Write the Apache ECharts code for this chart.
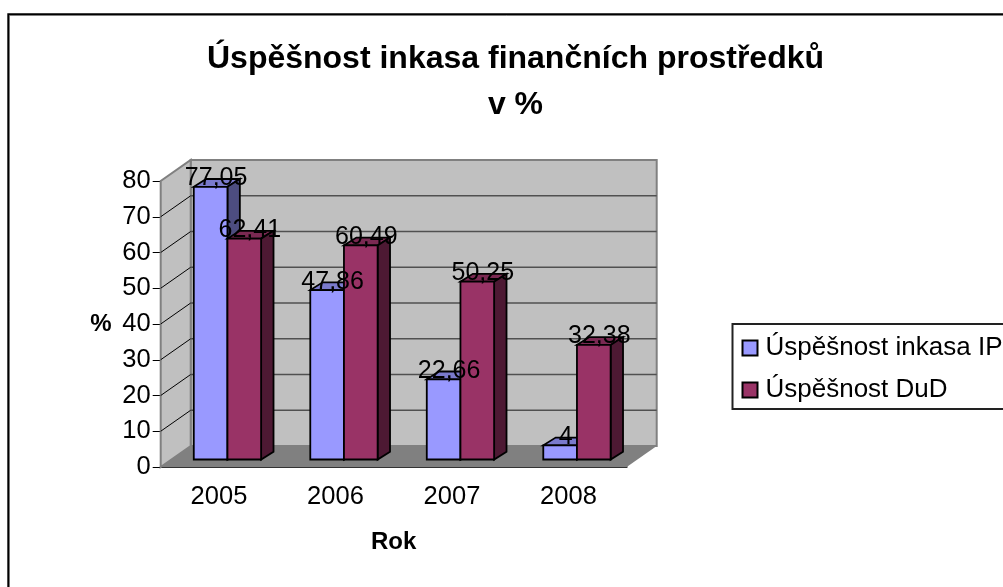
<!DOCTYPE html>
<html><head><meta charset="utf-8">
<style>html,body{margin:0;padding:0;background:#fff;overflow:hidden}#c{width:1003px;height:587px}</style>
<script src="https://cdn.jsdelivr.net/npm/echarts@6/dist/echarts.min.js"></script>
</head><body><div id="c"></div>
<script>
const titleText = 'Úspěšnost inkasa finančních prostředků\nv %';
const categories = ['2005', '2006', '2007', '2008'];
const seriesNames = ['Úspěšnost inkasa IP', 'Úspěšnost DuD'];
const valuesIP = [77.05, 47.86, 22.66, 4];
const valuesDuD = [62.41, 60.49, 50.25, 32.38];
const tickValues = [0, 10, 20, 30, 40, 50, 60, 70, 80];
const FONT = '"Liberation Sans", Arial, sans-serif';

// Oblique projection constants (pixels)
const WALL_DX = 30, WALL_DY = -21;
const BAR_INSET_X = 8.5, BAR_INSET_Y = -7.5, BAR_DX = 12.4, BAR_DY = -7.8;
const BAR_W = 0.289, SCALE = 0.99;

const chart = echarts.init(document.getElementById('c'), null, {renderer: 'canvas'});

function poly(points, fill, z2) {
  return {type: 'polygon', z2: z2 || 0, shape: {points},
    style: {fill, stroke: '#000', lineWidth: 1.8, lineJoin: 'miter'}};
}
function barSeries(idx, values, front, top, side) {
  return {
    name: seriesNames[idx], type: 'custom', z: 5,
    itemStyle: {color: front},
    data: values.map((v, i) => [i, v]),
    renderItem(params, api) {
      const cat = api.value(0), v = api.value(1);
      const c0 = api.coord([cat, 0]), c1 = api.coord([cat, v]);
      const band = api.size([1, 0])[0], w = band * BAR_W;
      const l = c0[0] + BAR_INSET_X + (idx === 0 ? -w : 0), r = l + w;
      const b = c0[1] + BAR_INSET_Y, t = b + (c1[1] - c0[1]) * SCALE;
      return {type: 'group', children: [
        poly([[l, t], [r, t], [r + BAR_DX, t + BAR_DY], [l + BAR_DX, t + BAR_DY]], top),
        poly([[r, t], [r + BAR_DX, t + BAR_DY], [r + BAR_DX, b + BAR_DY], [r, b]], side),
        poly([[l, t], [r, t], [r, b], [l, b]], front),
        {type: 'text', z2: 100, silent: true,
          style: {x: (l + r) / 2 + 5.5, y: t - 8.5, text: String(v).replace('.', ','),
            fill: '#000', font: '25px ' + FONT, align: 'center', verticalAlign: 'middle'}}
      ]};
    }
  };
}

chart.setOption({
  animation: false,
  backgroundColor: '#fff',
  title: {
    text: titleText, left: 510.5, top: 31, textAlign: 'center',
    textStyle: {fontFamily: FONT, fontSize: 32, fontWeight: 'bold', color: '#000', lineHeight: 46}
  },
  legend: {
    orient: 'vertical', left: 732.5, top: 324,
    data: seriesNames, icon: 'rect', itemWidth: 15, itemHeight: 15, itemGap: 16,
    padding: [11, 14, 6, 9], borderColor: '#222', borderWidth: 2, backgroundColor: '#fff',
    itemStyle: {borderColor: '#000', borderWidth: 2},
    textStyle: {fontFamily: FONT, fontSize: 26, color: '#000', padding: [0, 0, 0, 3]}
  },
  grid: {left: 160.7, right: 1003 - 626.7, top: 181, bottom: 587 - 467},
  xAxis: {
    type: 'category', data: categories, name: 'Rok', nameLocation: 'middle', nameGap: 63,
    nameTextStyle: {fontFamily: FONT, fontSize: 24, fontWeight: 'bold', color: '#000'},
    axisLine: {lineStyle: {color: '#333', width: 2}},
    axisTick: {alignWithLabel: false, length: 6, lineStyle: {color: '#000'}},
    axisLabel: {fontFamily: FONT, fontSize: 25.5, color: '#000', margin: 17}
  },
  yAxis: {
    type: 'value', min: 0, max: 80, interval: 10, name: '%', nameLocation: 'middle', nameGap: 49, nameRotate: 0,
    nameTextStyle: {fontFamily: FONT, fontSize: 24, fontWeight: 'bold', color: '#000'},
    axisLine: {show: true, lineStyle: {color: '#000', width: 1.5}},
    axisTick: {show: true, length: 8, lineStyle: {color: '#000'}},
    axisLabel: {fontFamily: FONT, fontSize: 25.5, color: '#000', margin: 10},
    splitLine: {show: false}
  },
  graphic: [
    {type: 'rect', z: 0, silent: true, shape: {x: 9.5, y: 15.5, width: 1100, height: 700},
      style: {fill: 'none', stroke: '#aaa', lineWidth: 1}},
    {type: 'rect', z: 0, silent: true, shape: {x: 8.3, y: 14.3, width: 1100, height: 700},
      style: {fill: 'none', stroke: '#000', lineWidth: 2}}
  ],
  series: [
    { // walls and floor
      type: 'custom', z: 1, silent: true, data: [[0, 0]], tooltip: {show: false},
      renderItem(params, api) {
        const band = api.size([1, 0])[0];
        const o = api.coord([0, 0]), top = api.coord([0, 80]);
        const x0 = o[0] - band / 2, x1 = x0 + band * categories.length, y0 = o[1], y1 = top[1];
        return {type: 'group', children: [
          {type: 'polygon', shape: {points: [[x0 + WALL_DX, y0 + WALL_DY], [x1 + WALL_DX, y0 + WALL_DY], [x1 + WALL_DX, y1 + WALL_DY], [x0 + WALL_DX, y1 + WALL_DY]]},
            style: {fill: '#c0c0c0', stroke: '#808080', lineWidth: 2}},
          {type: 'polygon', shape: {points: [[x0, y0], [x0 + WALL_DX, y0 + WALL_DY], [x0 + WALL_DX, y1 + WALL_DY], [x0, y1]]},
            style: {fill: '#c0c0c0', stroke: '#808080', lineWidth: 2}},
          {type: 'polygon', shape: {points: [[x0, y0], [x0 + WALL_DX, y0 + WALL_DY], [x1 + WALL_DX, y0 + WALL_DY], [x1, y0]]},
            style: {fill: '#808080', stroke: null}}
        ]};
      }
    },
    { // gridlines on the side and back wall
      type: 'custom', z: 2, silent: true, tooltip: {show: false},
      data: tickValues.slice(1, -1).map(v => [0, v]),
      renderItem(params, api) {
        const band = api.size([1, 0])[0];
        const p = api.coord([0, api.value(1)]);
        const x0 = p[0] - band / 2, x1 = x0 + band * categories.length, y = p[1];
        return {type: 'group', children: [
          {type: 'line', shape: {x1: x0, y1: y, x2: x0 + WALL_DX, y2: y + WALL_DY}, style: {stroke: '#000', lineWidth: 1}},
          {type: 'line', shape: {x1: x0 + WALL_DX, y1: y + WALL_DY, x2: x1 + WALL_DX, y2: y + WALL_DY}, style: {stroke: '#505050', lineWidth: 1.5}}
        ]};
      }
    },
    barSeries(0, valuesIP, '#9999ff', '#7a7acc', '#4d4d80'),
    barSeries(1, valuesDuD, '#993366', '#7a2952', '#4d1933')
  ]
});
</script></body></html>
